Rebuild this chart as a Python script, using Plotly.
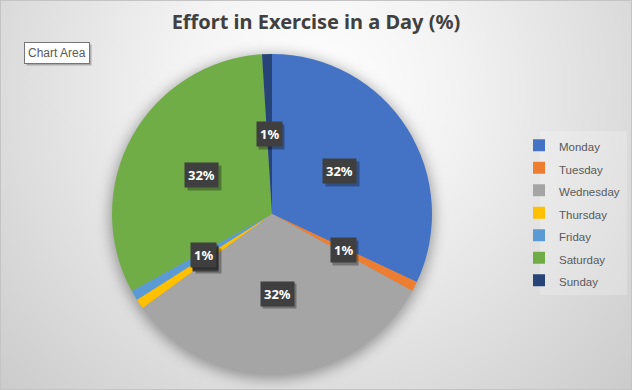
import base64
import math
import plotly.graph_objects as go

# ---- data ----
days = ["Monday", "Tuesday", "Wednesday", "Thursday", "Friday", "Saturday", "Sunday"]
effort = [32, 1, 32, 1, 1, 32, 1]
colors = ["#4472C4", "#ED7D31", "#A5A5A5", "#FFC000", "#5B9BD5", "#70AD47", "#264478"]
title_text = "Effort in Exercise in a Day (%)"

W, H = 632, 390
CX, CY, R = 272, 214, 160

# background: radial gradient + soft shadow behind the pie + thin border
svg = f'''<svg xmlns="http://www.w3.org/2000/svg" width="{W}" height="{H}" viewBox="0 0 {W} {H}" preserveAspectRatio="none">
<defs>
<radialGradient id="g" gradientUnits="userSpaceOnUse" cx="316" cy="90" r="460">
<stop offset="0" stop-color="#ffffff"/>
<stop offset="0.3" stop-color="#f3f3f3"/>
<stop offset="1" stop-color="#c8c8c8"/>
</radialGradient>
<filter id="b" x="-30%" y="-30%" width="160%" height="160%"><feGaussianBlur stdDeviation="7"/></filter>
</defs>
<rect x="0" y="0" width="{W}" height="{H}" fill="url(#g)"/>
<circle cx="{CX}" cy="{CY+3}" r="{R+2}" fill="rgba(0,0,0,0.35)" filter="url(#b)"/>
<rect x="540" y="131" width="87" height="164" fill="rgba(255,255,255,0.22)"/>
<rect x="0.5" y="0.5" width="{W-1}" height="{H-1}" fill="none" stroke="#c4c4c4" stroke-width="1"/>
</svg>'''
src = "data:image/svg+xml;base64," + base64.b64encode(svg.encode()).decode()

legend_labels = [f'<span style="font-size:11.5px">{d}</span>' for d in days]

fig = go.Figure(go.Pie(
    labels=legend_labels,
    values=effort,
    marker=dict(colors=colors, line=dict(width=0)),
    sort=False,
    direction="clockwise",
    rotation=0,
    textinfo="none",
    hoverinfo="label+percent",
    domain=dict(x=[(CX - R) / W, (CX + R) / W], y=[1 - (CY + R) / H, 1 - (CY - R) / H]),
))

# data labels at the middle of each slice, half the radius out
total = sum(effort)
ann = []
acc = 0
for v in effort:
    mid = (acc + v / 2) / total * 2 * math.pi
    acc += v
    pct = f"{round(v / total * 100)}%"
    px = CX + 0.5 * R * math.sin(mid)
    py = CY - 0.5 * R * math.cos(mid)
    # shadow
    ann.append(dict(x=(px + 2.5) / W, y=1 - (py + 2.5) / H, xref="paper", yref="paper",
                    xanchor="center", yanchor="middle",
                    text=pct, showarrow=False, bgcolor="rgba(0,0,0,0.3)", borderpad=3,
                    font=dict(family="Noto Sans", size=13, color="rgba(0,0,0,0)", weight="bold")))
    ann.append(dict(x=px / W, y=1 - py / H, xref="paper", yref="paper",
                    xanchor="center", yanchor="middle",
                    text=pct, showarrow=False, bgcolor="#3f3f3f", borderpad=3,
                    font=dict(family="Noto Sans", size=13, color="white", weight="bold")))

# "Chart Area" tooltip box
ann.append(dict(x=26 / W, y=1 - 55 / H, xref="paper", yref="paper", text="Chart Area",
                showarrow=False, bgcolor="rgba(0,0,0,0.25)", borderpad=3,
                xanchor="left", yanchor="middle",
                font=dict(family="Liberation Sans", size=12, color="rgba(0,0,0,0)")))
ann.append(dict(x=24 / W, y=1 - 53 / H, xref="paper", yref="paper", text="Chart Area",
                showarrow=False, bgcolor="white", bordercolor="#767676", borderwidth=1,
                borderpad=3, xanchor="left", yanchor="middle",
                font=dict(family="Liberation Sans", size=12, color="#595959")))

fig.update_layout(
    width=W, height=H,
    margin=dict(l=0, r=0, t=0, b=0, autoexpand=False),
    paper_bgcolor="#e6e6e6",
    title=dict(text=title_text, x=0.5, xanchor="center", y=1 - 22 / H, yanchor="middle",
               font=dict(family="Noto Sans", size=20, color="#404040", weight="bold")),
    showlegend=True,
    legend=dict(x=519 / W, xanchor="left", y=1 - 129 / H, yanchor="top",
                bgcolor="rgba(0,0,0,0)", borderwidth=0,
                font=dict(family="Liberation Sans", size=15, color="#595959"),
                itemclick=False),
    images=[dict(source=src, xref="paper", yref="paper", x=0, y=1, sizex=1, sizey=1,
                 xanchor="left", yanchor="top", sizing="stretch", layer="below")],
    annotations=ann,
)

fig.write_html("out.html", config={"displayModeBar": False},
               post_script="document.body.style.margin='0';document.body.style.overflow='hidden';")
